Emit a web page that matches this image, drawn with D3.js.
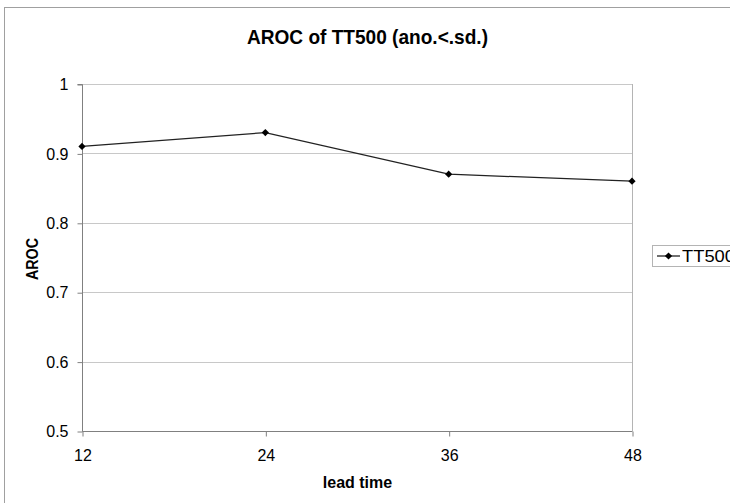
<!DOCTYPE html>
<html>
<head>
<meta charset="utf-8">
<script src="https://cdn.jsdelivr.net/npm/d3@7"></script>
<style>
  html, body { margin: 0; padding: 0; background: #fff; }
  svg { display: block; }
  text { font-family: "Liberation Sans", Arial, sans-serif; fill: #000; }
</style>
</head>
<body>
<svg id="chart" width="730" height="503"></svg>
<script>
// Lead times (hours) and AROC scores for TT500
const leadTimes = [12, 24, 36, 48];
const aroc = [0.91, 0.93, 0.87, 0.86];
const yTicks = [0.5, 0.6, 0.7, 0.8, 0.9, 1];
const seriesName = "TT500";

const svg = d3.select("#chart");
const W = 730, H = 503;
const plot = { left: 82, right: 632, top: 84, bottom: 431 };

// Outer chart frame (extends past the visible window on the right and bottom)
svg.append("rect")
  .attr("x", 4.5).attr("y", 7.5)
  .attr("width", W + 20).attr("height", H + 20)
  .attr("fill", "#fff").attr("stroke", "#a0a0a0").attr("stroke-width", 1);

const x = d3.scaleLinear().domain([12, 48]).range([plot.left, plot.right]);
const y = d3.scaleLinear().domain([0.5, 1]).range([plot.bottom, plot.top]);

// Horizontal gridlines
svg.append("g")
  .selectAll("line")
  .data(yTicks)
  .join("line")
  .attr("x1", plot.left).attr("x2", plot.right)
  .attr("y1", d => Math.round(y(d)) + 0.5).attr("y2", d => Math.round(y(d)) + 0.5)
  .attr("stroke", "#c8c8c8").attr("stroke-width", 1);

// Right border of plot area
svg.append("line")
  .attr("x1", plot.right + 0.5).attr("x2", plot.right + 0.5)
  .attr("y1", plot.top).attr("y2", plot.bottom)
  .attr("stroke", "#b4b4b4");

const tickFont = "'Liberation Sans', Arial, sans-serif";

// Y axis
const yAxis = d3.axisLeft(y).tickValues(yTicks).tickSize(5).tickPadding(9)
  .tickFormat(d => d3.format("~g")(d));
const gy = svg.append("g")
  .attr("transform", `translate(${plot.left + 0.5},0.5)`)
  .call(yAxis);
gy.select(".domain").attr("stroke", "#808080").attr("d", `M-5,${plot.top}H0V${plot.bottom}`);
gy.selectAll(".tick line").attr("stroke", "#808080");
gy.selectAll(".tick text")
  .attr("font-size", 16).attr("fill", "#222")
  .attr("font-family", tickFont);

// X axis
const xAxis = d3.axisBottom(x).tickValues(leadTimes).tickSize(5).tickPadding(13)
  .tickFormat(d3.format("d"));
const gx = svg.append("g")
  .attr("transform", `translate(0.5,${plot.bottom + 0.5})`)
  .call(xAxis);
gx.select(".domain").attr("stroke", "#808080").attr("d", `M${plot.left},0H${plot.right}`);
gx.selectAll(".tick line").attr("stroke", "#808080");
gx.selectAll(".tick text")
  .attr("font-size", 16).attr("fill", "#222")
  .attr("font-family", tickFont);

// Series line and diamond markers
const pts = leadTimes.map((t, i) => [t, aroc[i]]);
svg.append("path")
  .datum(pts)
  .attr("fill", "none").attr("stroke", "#222").attr("stroke-width", 1.3)
  .attr("d", d3.line().x(d => x(d[0])).y(d => y(d[1])));

// Equal-sided diamond marker
const r = 3.6;
const diamondPath = `M0,${-r}L${r},0L0,${r}L${-r},0Z`;
svg.append("g")
  .selectAll("path")
  .data(pts)
  .join("path")
  .attr("transform", d => `translate(${x(d[0])},${y(d[1])})`)
  .attr("d", diamondPath)
  .attr("fill", "#000");

// Title (condensed bold face)
svg.append("text")
  .attr("x", 247).attr("y", 43.5)
  .attr("font-size", 21).attr("font-weight", "bold")
  .attr("textLength", 241).attr("lengthAdjust", "spacingAndGlyphs")
  .text("AROC of TT500 (ano.<.sd.)");

// Axis titles
svg.append("text")
  .attr("x", 357.5).attr("y", 488)
  .attr("text-anchor", "middle")
  .attr("font-size", 16).attr("font-weight", "bold")
  .text("lead time");

svg.append("text")
  .attr("transform", "translate(38,259) rotate(-90)")
  .attr("text-anchor", "middle")
  .attr("font-size", 16).attr("font-weight", "bold")
  .attr("textLength", 42).attr("lengthAdjust", "spacingAndGlyphs")
  .text("AROC");

// Legend
const lg = svg.append("g").attr("transform", "translate(652,245)");
lg.append("rect")
  .attr("x", 0.5).attr("y", 0.5).attr("width", 100).attr("height", 21)
  .attr("fill", "#fff").attr("stroke", "#b4b4b4");
lg.append("line")
  .attr("x1", 5).attr("x2", 28).attr("y1", 11).attr("y2", 11)
  .attr("stroke", "#222").attr("stroke-width", 1.3);
lg.append("path")
  .attr("transform", "translate(16.5,11)")
  .attr("d", diamondPath).attr("fill", "#000");
lg.append("text")
  .attr("x", 30).attr("y", 17)
  .attr("font-size", 16).attr("fill", "#222")
  .attr("textLength", 53).attr("lengthAdjust", "spacingAndGlyphs")
  .text(seriesName);
</script>
</body>
</html>
